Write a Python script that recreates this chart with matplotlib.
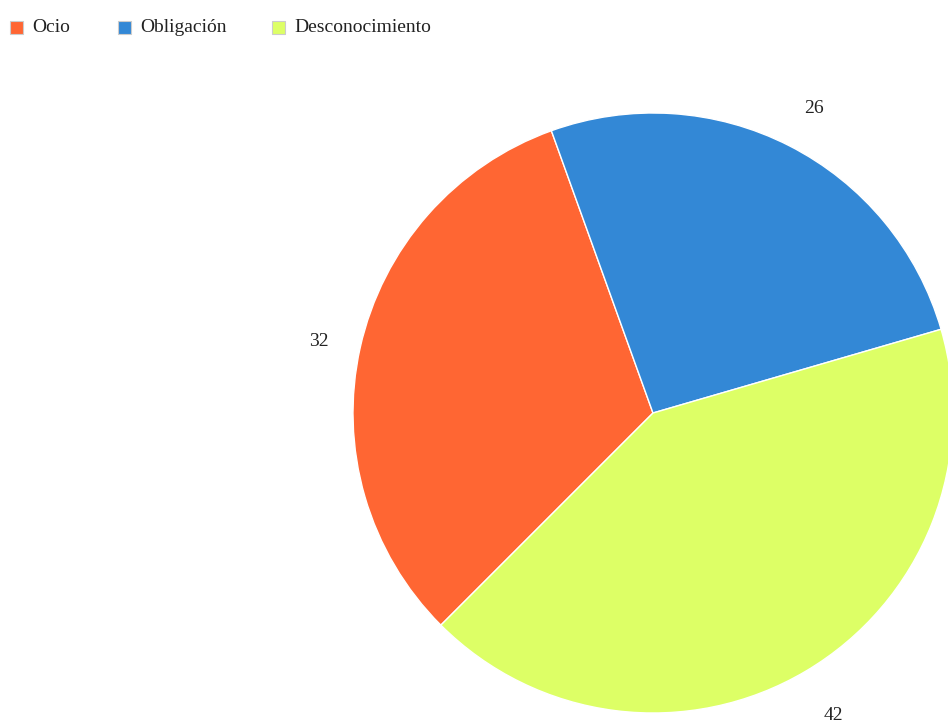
import matplotlib
matplotlib.use("Agg")
import matplotlib.pyplot as plt
import matplotlib.transforms as mtransforms
from matplotlib.patches import Rectangle

categories = ["Ocio", "Obligación", "Desconocimiento"]
values = [32, 26, 42]
colors = ["#FF6633", "#3388D6", "#DDFF66"]

W, H = 948, 720
fig = plt.figure(figsize=(W / 100, H / 100), dpi=100)
plt.rcParams['font.family'] = ['Liberation Serif', 'DejaVu Serif']

cx, cy, R = 653, 413, 300
ax = fig.add_axes([(cx - R) / W, (H - cy - R) / H, 2 * R / W, 2 * R / H])
wedges, texts = ax.pie(values, colors=colors, labels=[str(v) for v in values],
                       startangle=225, counterclock=False, labeldistance=1.155,
                       wedgeprops=dict(edgecolor="white", linewidth=1),
                       textprops=dict(fontsize=14, color="#222222"))
shift = mtransforms.offset_copy(ax.transData, fig=fig, x=4, y=-4, units="dots")
for t in texts:
    t.set_ha("center")
    t.set_va("center")
    t.set_transform(shift)
ax.set_xlim(-1, 1)
ax.set_ylim(-1, 1)
ax.axis("off")

# legend
legend_x = [10, 118, 272]
for x, name, c in zip(legend_x, categories, colors):
    fig.patches.append(Rectangle((x / W, 1 - 34 / H), 13 / W, 13 / H,
                                 transform=fig.transFigure, facecolor=c,
                                 edgecolor="#cccccc", linewidth=0.8))
    fig.text((x + 22) / W, 1 - 27.5 / H, name, fontsize=14, color="#222222",
             ha="left", va="center")

fig.savefig("out.png", dpi=100)
